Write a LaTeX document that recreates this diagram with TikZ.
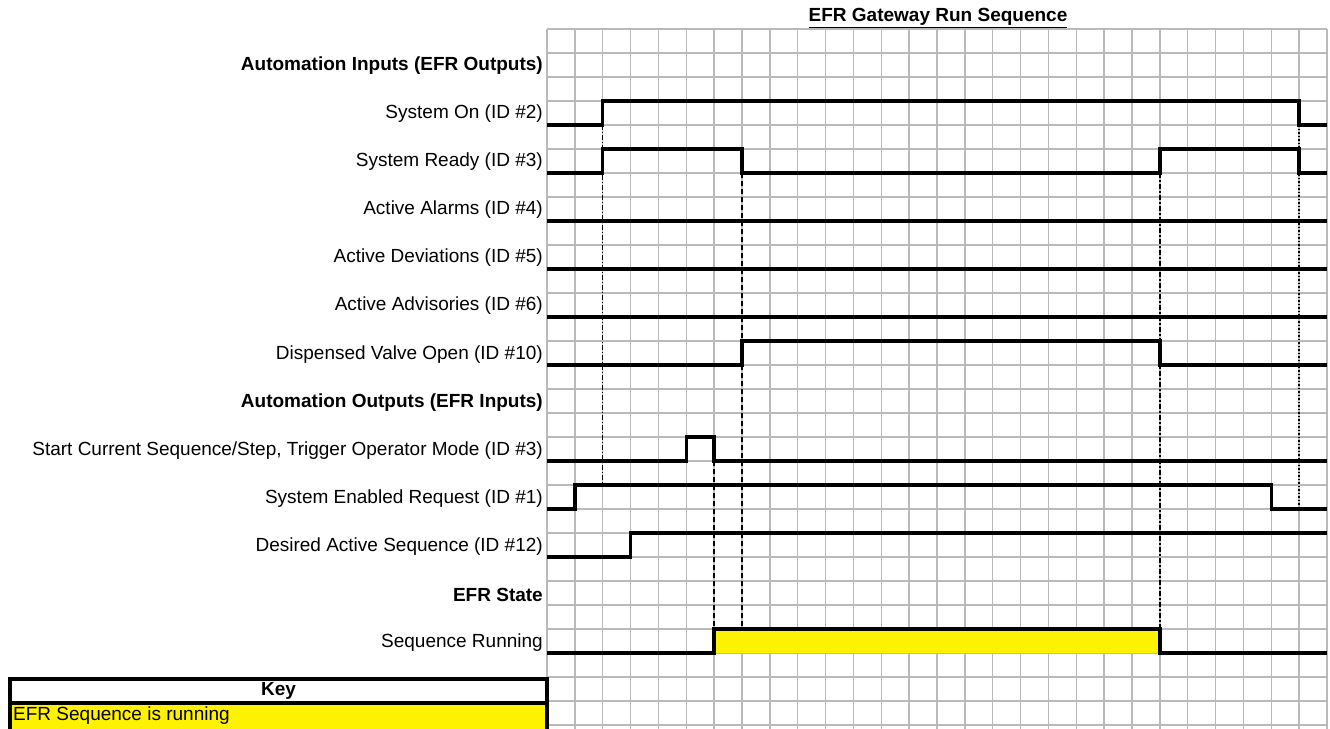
\documentclass[tikz,border=0pt]{standalone}
\usepackage{fontspec}
\setmainfont{Liberation Sans}
\begin{document}
\begin{tikzpicture}[x=1pt,y=-1pt,
  gridline/.style={draw=black!27, line width=1.4pt},
  sig/.style={draw=black, line width=3.4pt, line join=miter},
  lbl/.style={anchor=east, inner sep=0pt, font=\fontsize{19}{20}\selectfont},
  hdr/.style={anchor=east, inner sep=0pt, font=\fontsize{19}{20}\selectfont\bfseries},
  vthick/.style={draw=black, line width=2.6pt, dash pattern=on 5pt off 3pt},
  vthin/.style={draw=black, line width=1.3pt, dash pattern=on 5pt off 2pt on 1pt off 2pt},
  vdot/.style={draw=black, line width=1.4pt, dash pattern=on 1.5pt off 2pt},
  vdashdot/.style={draw=black, line width=2.4pt, dash pattern=on 5pt off 2pt on 2pt off 2pt},
]
\useasboundingbox (0,0) rectangle (1330,728);
\fill[white] (0,0) rectangle (1330,728);

% grid
\foreach \k in {0,...,28} \draw[gridline] ({547+\k*27.857},29) -- ({547+\k*27.857},730);
\foreach \j in {0,...,29} \draw[gridline] (547,{29+24*\j}) -- (1327,{29+24*\j});

% yellow running band
\fill[yellow] (714.14,629) rectangle (1159.85,653);

% title
\node[inner sep=0pt, font=\fontsize{19}{20}\selectfont\bfseries] (title) at (938,18) {\underline{EFR Gateway Run Sequence}};

% labels
\node[hdr] (hin)  at (543,66)  {Automation Inputs (EFR Outputs)};
\node[lbl] (son)  at (543,114) {System On (ID \#2)};
\node[lbl] (srdy) at (543,162) {System Ready (ID \#3)};
\node[lbl] (alm)  at (543,210) {Active Alarms (ID \#4)};
\node[lbl] (dev)  at (543,258) {Active Deviations (ID \#5)};
\node[lbl] (adv)  at (543,306) {Active Advisories (ID \#6)};
\node[lbl] (dvo)  at (543,355) {Dispensed Valve Open (ID \#10)};
\node[hdr] (hout) at (543,403) {Automation Outputs (EFR Inputs)};
\node[lbl] (scs)  at (543,451) {Start Current Sequence/Step, Trigger Operator Mode (ID \#3)};
\node[lbl] (ser)  at (543,499) {System Enabled Request (ID \#1)};
\node[lbl] (das)  at (543,547) {Desired Active Sequence (ID \#12)};
\node[hdr] (hst)  at (543,595) {EFR State};
\node[lbl] (srun) at (543,643) {Sequence Running};

% key
\fill[yellow] (10,703) rectangle (547,732);
\draw[line width=3.2pt] (10,679) rectangle (547,732);
\draw[line width=3.2pt] (10,703) -- (547,703);
\node[inner sep=0pt, font=\fontsize{19}{20}\selectfont\bfseries] (key) at (278.5,691) {Key};
\node[anchor=west, inner sep=0pt, font=\fontsize{19}{20}\selectfont] (keyrow) at (13,716) {EFR Sequence is running};

% edge coordinates
\coordinate (onUp)    at (602.71,125);
\coordinate (enHigh)  at (602.71,485);
\coordinate (scsDown) at (714.14,461);
\coordinate (runUp)   at (714.14,629);
\coordinate (rdyDown) at (742,173);
\coordinate (runMid)  at (742,629);
\coordinate (rdyUp)   at (1159.85,173);
\coordinate (runDown) at (1159.85,629);
\coordinate (onDown)  at (1299.14,125);
\coordinate (enLow)   at (1299.14,509);

% dashed markers
\draw[vthin] (onUp) -- (enHigh);
\draw[vthick] (scsDown) -- (runUp);
\draw[vthick] (rdyDown) -- (runMid);
\draw[vdashdot] (rdyUp) -- (runDown);
\draw[vdot] (onDown) -- (enLow);

% signals
\draw[sig] (547,125) -- (602.71,125) -- (602.71,101) -- (1299.14,101) -- (1299.14,125) -- (1327,125);
\draw[sig] (547,173) -- (602.71,173) -- (602.71,149) -- (742,149) -- (742,173) -- (1159.85,173) -- (1159.85,149) -- (1299.14,149) -- (1299.14,173) -- (1327,173);
\draw[sig] (547,221) -- (1327,221);
\draw[sig] (547,269) -- (1327,269);
\draw[sig] (547,317) -- (1327,317);
\draw[sig] (547,365) -- (742,365) -- (742,341) -- (1159.85,341) -- (1159.85,365) -- (1327,365);
\draw[sig] (547,461) -- (686.29,461) -- (686.29,437) -- (714.14,437) -- (714.14,461) -- (1327,461);
\draw[sig] (547,509) -- (574.86,509) -- (574.86,485) -- (1271.28,485) -- (1271.28,509) -- (1327,509);
\draw[sig] (547,557) -- (630.57,557) -- (630.57,533) -- (1327,533);
\draw[sig] (547,653) -- (714.14,653) -- (714.14,629) -- (1159.85,629) -- (1159.85,653) -- (1327,653);
\end{tikzpicture}
\end{document}
